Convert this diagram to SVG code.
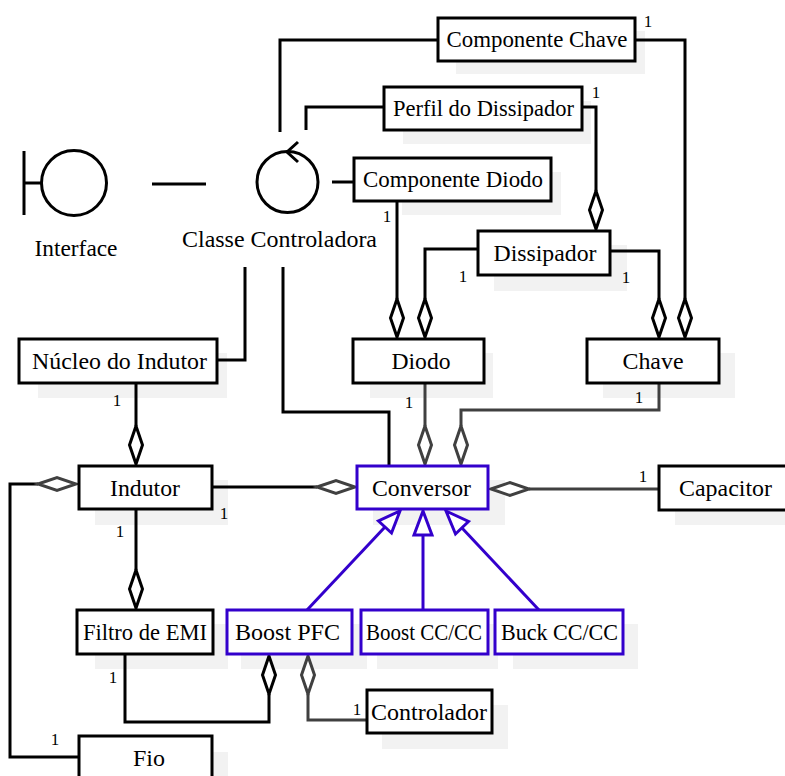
<svg xmlns="http://www.w3.org/2000/svg" width="785" height="776" viewBox="0 0 785 776" font-family="Liberation Serif, DejaVu Serif, serif">
<style>
.sh{fill:#f2f2f2;stroke:none}
.bx{fill:#fff;stroke:#000;stroke-width:3}
.bb{fill:#fff;stroke:#3300cc;stroke-width:3}
.t{font-size:24px;fill:#000;text-anchor:middle}
.n{font-size:17px;fill:#000;text-anchor:middle}
.ln{fill:none;stroke:#000;stroke-width:3}
.lg{fill:none;stroke:#404040;stroke-width:3}
.lb{fill:none;stroke:#3300cc;stroke-width:3}
.dm{fill:#fff;stroke:#000;stroke-width:3}
.dg{fill:#fff;stroke:#404040;stroke-width:3}
.tr{fill:#fff;stroke:#3300cc;stroke-width:3}
</style>
<defs>
<polygon id="dv" points="0,-19 6.5,0 0,19 -6.5,0"/>
<polygon id="dh" points="-19,0 0,-6.5 19,0 0,6.5"/>
</defs>
<g id="shadows">
<rect class="sh" x="456" y="31" width="189" height="43"/>
<rect class="sh" x="403" y="101" width="188" height="43"/>
<rect class="sh" x="402" y="172" width="159" height="43"/>
<rect class="sh" x="494" y="245" width="133" height="46"/>
<rect class="sh" x="38" y="353" width="189" height="45"/>
<rect class="sh" x="370" y="353" width="123" height="45"/>
<rect class="sh" x="603" y="353" width="132" height="45"/>
<rect class="sh" x="95" y="480" width="133" height="45"/>
<rect class="sh" x="373" y="480" width="132" height="45"/>
<rect class="sh" x="675" y="480" width="120" height="45"/>
<rect class="sh" x="95" y="624" width="133" height="45"/>
<rect class="sh" x="241" y="624" width="126" height="45"/>
<rect class="sh" x="377" y="624" width="121" height="45"/>
<rect class="sh" x="513" y="624" width="125" height="45"/>
<rect class="sh" x="382" y="705" width="126" height="44"/>
<rect class="sh" x="95" y="752" width="133" height="30"/>
</g>
<g id="connectors">
<line class="ln" x1="152" y1="184" x2="206" y2="184"/>
<line class="ln" x1="332" y1="182" x2="354" y2="182"/>
<polyline class="ln" points="280,132 280,40 438,40"/>
<polyline class="ln" points="306,130 306,107 384,107"/>
<polyline class="ln" points="245,267 245,360 217,360"/>
<polyline class="ln" points="283,267 283,412 389,412 389,466"/>
<polyline class="ln" points="635,40 685,40 685,299"/>
<polyline class="ln" points="582,107 596,107 596,191"/>
<polyline class="ln" points="397,201 397,299"/>
<polyline class="ln" points="478,249 425,249 425,299"/>
<polyline class="ln" points="610,251 659,251 659,299"/>
<polyline class="ln" points="136,383 136,426"/>
<polyline class="lg" points="425,383 425,426"/>
<polyline class="lg" points="659,383 659,410 461,410 461,426"/>
<polyline class="ln" points="136,509 136,570"/>
<polyline class="ln" points="212,487 317,487"/>
<polyline class="lg" points="659,489 529,489"/>
<polyline class="ln" points="79,757 10,757 10,484 38,484"/>
<polyline class="ln" points="125,654 125,722 269,722 269,694"/>
<polyline class="lg" points="367,720 308,720 308,694"/>
<use href="#dv" class="dm" x="596" y="210"/>
<use href="#dv" class="dm" x="685" y="318"/>
<use href="#dv" class="dm" x="659" y="318"/>
<use href="#dv" class="dm" x="397" y="318"/>
<use href="#dv" class="dm" x="425" y="318"/>
<use href="#dv" class="dm" x="136" y="445"/>
<use href="#dv" class="dg" x="425" y="445"/>
<use href="#dv" class="dg" x="461" y="445"/>
<use href="#dv" class="dm" x="136" y="589"/>
<use href="#dv" class="dm" x="269" y="675"/>
<use href="#dv" class="dg" x="308" y="675"/>
<use href="#dh" class="dg" x="57" y="484"/>
<use href="#dh" class="dg" x="336" y="487"/>
<use href="#dh" class="dg" x="510" y="489"/>
<line class="lb" x1="307" y1="610" x2="385" y2="527"/>
<line class="lb" x1="423" y1="610" x2="423" y2="535"/>
<line class="lb" x1="539" y1="610" x2="462" y2="528"/>
<polygon class="tr" points="400,511 391.5,533 378.5,521"/>
<polygon class="tr" points="423,511 432,535 414,535"/>
<polygon class="tr" points="446,511 468.5,521.5 455.5,534"/>
</g>
<g id="n-interface">
<line class="ln" x1="24" y1="151" x2="24" y2="215"/>
<line class="ln" x1="24" y1="183" x2="41" y2="183"/>
<circle class="ln" cx="74" cy="183" r="32.5"/>
<text class="t" x="76" y="256" textLength="83" lengthAdjust="spacingAndGlyphs">Interface</text>
</g>
<g id="n-controladora">
<circle class="ln" cx="287.5" cy="182" r="30.5"/>
<polyline class="ln" stroke-width="2.5" points="298,142 287,152 298,162"/>
<text class="t" x="279.5" y="247" textLength="195" lengthAdjust="spacingAndGlyphs">Classe Controladora</text>
</g>
<g id="n-componente-chave"><rect class="bx" x="438" y="18" width="197" height="43"/><text class="t" x="537" y="47" textLength="181" lengthAdjust="spacingAndGlyphs">Componente Chave</text></g>
<g id="n-perfil"><rect class="bx" x="384" y="87" width="198" height="43"/><text class="t" x="483.5" y="116" textLength="181" lengthAdjust="spacingAndGlyphs">Perfil do Dissipador</text></g>
<g id="n-componente-diodo"><rect class="bx" x="354" y="158" width="197" height="43"/><text class="t" x="453" y="187" textLength="180" lengthAdjust="spacingAndGlyphs">Componente Diodo</text></g>
<g id="n-dissipador"><rect class="bx" x="478" y="231" width="132" height="44"/><text class="t" x="545" y="261" textLength="103" lengthAdjust="spacingAndGlyphs">Dissipador</text></g>
<g id="n-nucleo"><rect class="bx" x="19" y="339" width="198" height="44"/><text class="t" x="119.5" y="369" textLength="175" lengthAdjust="spacingAndGlyphs">Núcleo do Indutor</text></g>
<g id="n-diodo"><rect class="bx" x="353" y="339" width="131" height="44"/><text class="t" x="421" y="369" textLength="59" lengthAdjust="spacingAndGlyphs">Diodo</text></g>
<g id="n-chave"><rect class="bx" x="587" y="339" width="132" height="44"/><text class="t" x="653" y="369" textLength="61" lengthAdjust="spacingAndGlyphs">Chave</text></g>
<g id="n-indutor"><rect class="bx" x="79" y="466" width="133" height="43"/><text class="t" x="145" y="496" textLength="70" lengthAdjust="spacingAndGlyphs">Indutor</text></g>
<g id="n-conversor"><rect class="bb" x="357" y="466" width="131" height="43"/><text class="t" x="421.5" y="496" textLength="99" lengthAdjust="spacingAndGlyphs">Conversor</text></g>
<g id="n-capacitor"><rect class="bx" x="659" y="466" width="133" height="44"/><text class="t" x="725.5" y="496" textLength="93" lengthAdjust="spacingAndGlyphs">Capacitor</text></g>
<g id="n-filtro"><rect class="bx" x="77" y="610" width="136" height="44"/><text class="t" x="145" y="640" textLength="124" lengthAdjust="spacingAndGlyphs">Filtro de EMI</text></g>
<g id="n-boost-pfc"><rect class="bb" x="227" y="610" width="125" height="44"/><text class="t" x="287.5" y="640" textLength="105" lengthAdjust="spacingAndGlyphs">Boost PFC</text></g>
<g id="n-boost-cc"><rect class="bb" x="361" y="610" width="127" height="44"/><text class="t" x="424" y="640" textLength="116" lengthAdjust="spacingAndGlyphs">Boost CC/CC</text></g>
<g id="n-buck-cc"><rect class="bb" x="495" y="610" width="128" height="44"/><text class="t" x="559.5" y="640" textLength="117" lengthAdjust="spacingAndGlyphs">Buck CC/CC</text></g>
<g id="n-controlador"><rect class="bx" x="367" y="690" width="125" height="43"/><text class="t" x="429" y="720" textLength="116" lengthAdjust="spacingAndGlyphs">Controlador</text></g>
<g id="n-fio"><rect class="bx" x="79" y="736" width="133" height="50"/><text class="t" x="149" y="766" textLength="32" lengthAdjust="spacingAndGlyphs">Fio</text></g>
<g id="multiplicities">
<text class="n" x="648" y="27">1</text>
<text class="n" x="596" y="98">1</text>
<text class="n" x="387" y="222">1</text>
<text class="n" x="463" y="282">1</text>
<text class="n" x="626" y="283">1</text>
<text class="n" x="117" y="406">1</text>
<text class="n" x="409" y="408">1</text>
<text class="n" x="639" y="403">1</text>
<text class="n" x="643" y="482">1</text>
<text class="n" x="224" y="519">1</text>
<text class="n" x="120" y="537">1</text>
<text class="n" x="113" y="683">1</text>
<text class="n" x="357" y="715">1</text>
<text class="n" x="55" y="745">1</text>
</g>
</svg>
